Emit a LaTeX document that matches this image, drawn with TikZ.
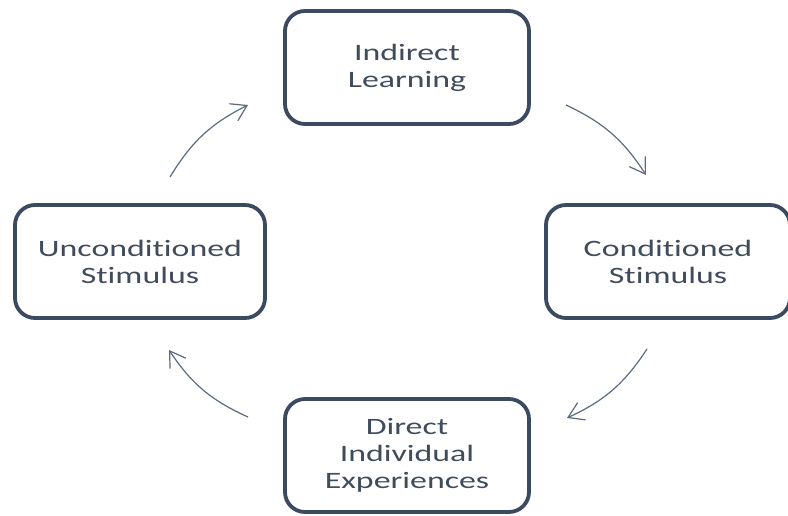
\documentclass[tikz,border=0pt]{standalone}
\usepackage{fontspec}
\setmainfont{Carlito}[FakeStretch=1.44, Ligatures=NoCommon]
\usetikzlibrary{arrows.meta}
\definecolor{boxline}{HTML}{3B4A5E}
\definecolor{txt}{HTML}{404B5C}
\definecolor{arr}{HTML}{5C6B80}
\tikzset{
  stagebox/.style={draw=boxline, line width=3.8pt, rounded corners=20pt, fill=white,
    minimum width=244pt, minimum height=113pt, align=center, text=txt,
    font=\fontsize{23.5pt}{27pt}\selectfont, inner sep=0pt},
  cyclearrow/.style={draw=arr, line width=1.2pt, bend left=16,
    -{Straight Barb[length=15pt, width=19pt, line width=1.2pt]}}
}
\begin{document}
\begin{tikzpicture}[x=1pt, y=-1pt]
\useasboundingbox (0,0) rectangle (788,515);
\node[stagebox] (top) at (407,67.5) {Indirect\\Learning};
\node[stagebox] (right) at (668,261.5) {Conditioned\\Stimulus};
\node[stagebox] (bottom) at (407,455.5) {Direct\\Individual\\Experiences};
\node[stagebox, minimum width=250pt] (left) at (140,261.5) {Unconditioned\\Stimulus};
\coordinate (a1s) at (170,177);
\coordinate (a1e) at (248,105);
\coordinate (a2s) at (566,105);
\coordinate (a2e) at (646,175);
\coordinate (a3s) at (647,349);
\coordinate (a3e) at (567,418);
\coordinate (a4s) at (248,417);
\coordinate (a4e) at (169,350);
\draw[cyclearrow] (a1s) to (a1e);
\draw[cyclearrow] (a2s) to (a2e);
\draw[cyclearrow] (a3s) to (a3e);
\draw[cyclearrow] (a4s) to (a4e);
\end{tikzpicture}
\end{document}
